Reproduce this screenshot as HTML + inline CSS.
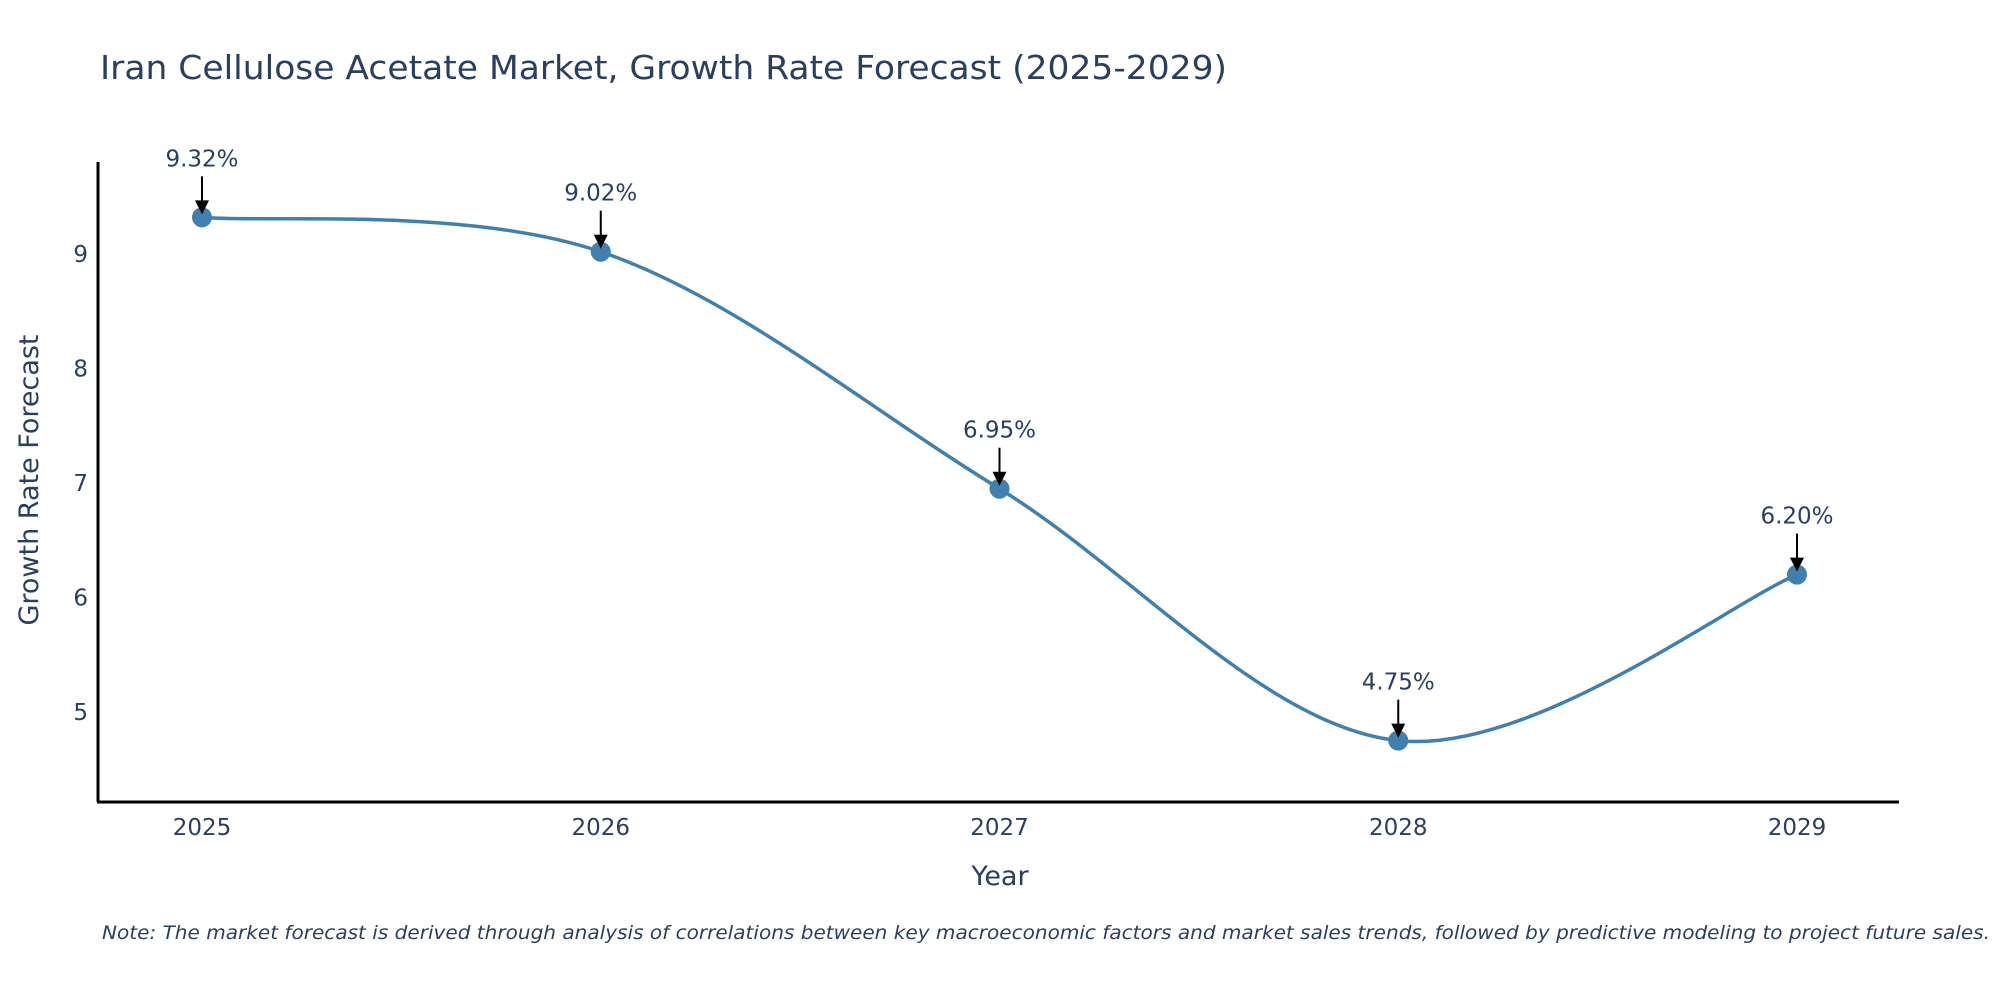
<!DOCTYPE html>
<html><head><meta charset="utf-8"><style>
body{margin:0;background:#fff;}
svg text{font-family:"DejaVu Sans","Liberation Sans",sans-serif;fill:#2a3f5f;}
</style></head><body>
<svg id="chart" width="2000" height="1000">
<text x="100" y="79" font-size="33" textLength="1127" lengthAdjust="spacingAndGlyphs">Iran Cellulose Acetate Market, Growth Rate Forecast (2025-2029)</text>
<g id="yticks"></g>
<g id="xticks"></g>
<line x1="98" y1="162" x2="98" y2="802" stroke="#000" stroke-width="3"/>
<line x1="97" y1="802" x2="1899" y2="802" stroke="#000" stroke-width="3"/>
<text transform="translate(38,480) rotate(-90)" text-anchor="middle" font-size="27">Growth Rate Forecast</text>
<text x="1000" y="885" text-anchor="middle" font-size="27">Year</text>
<path id="line" fill="none" stroke="#3f80b1" stroke-width="3.5"/>
<g id="marks"></g>
<g id="annots"></g>
<text x="102" y="939" font-size="19" font-style="italic" textLength="1888" lengthAdjust="spacingAndGlyphs">Note: The market forecast is derived through analysis of correlations between key macroeconomic factors and market sales trends, followed by predictive modeling to project future sales.</text>
</svg>
<script>
const years=[2025,2026,2027,2028,2029];
const values=[9.32,9.02,6.95,4.75,6.20];
const labels=["9.32%","9.02%","6.95%","4.75%","6.20%"];
const yTicks=[5,6,7,8,9];
const NS="http://www.w3.org/2000/svg";
function xs(v){return 202+(v-2025)*398.75;}
function ys(v){return 254-(v-9)*114.5;}
function mk(t,a,p){const e=document.createElementNS(NS,t);for(const k in a)e.setAttribute(k,a[k]);p.appendChild(e);return e;}
const yt=document.getElementById('yticks');
yTicks.forEach(t=>{const e=mk('text',{x:88,y:ys(t)+8,'text-anchor':'end','font-size':23},yt);e.textContent=t;

});
const xt=document.getElementById('xticks');
years.forEach(t=>{const e=mk('text',{x:xs(t),y:835,'text-anchor':'middle','font-size':23},xt);e.textContent=t;

});
const P=years.map((y,i)=>[xs(y),ys(values[i])]);
let d='M'+P[0][0]+','+P[0][1];const s=0.5;
for(let i=0;i<P.length-1;i++){const p0=P[Math.max(0,i-1)],p1=P[i],p2=P[i+1],p3=P[Math.min(P.length-1,i+2)];
const c1=[p1[0]+(p2[0]-p0[0])*s/3,p1[1]+(p2[1]-p0[1])*s/3];
const c2=[p2[0]-(p3[0]-p1[0])*s/3,p2[1]-(p3[1]-p1[1])*s/3];
d+=' C'+c1+' '+c2+' '+p2;}
document.getElementById('line').setAttribute('d',d);
const mg=document.getElementById('marks'),ag=document.getElementById('annots');
P.forEach((p,i)=>{const c=mk('circle',{cx:p[0],cy:p[1],r:10,fill:'#3f80b1'},mg);


const l=mk('line',{x1:p[0],y1:p[1]-41,x2:p[0],y2:p[1]-14,stroke:'#000','stroke-width':2},ag);


const h=mk('polygon',{points:(p[0]-7)+','+(p[1]-17)+' '+(p[0]+7)+','+(p[1]-17)+' '+p[0]+','+(p[1]-3),fill:'#000'},ag);


const t=mk('text',{x:p[0],y:p[1]-51,'text-anchor':'middle','font-size':23},ag);t.textContent=labels[i];

});
</script>
</body></html>
